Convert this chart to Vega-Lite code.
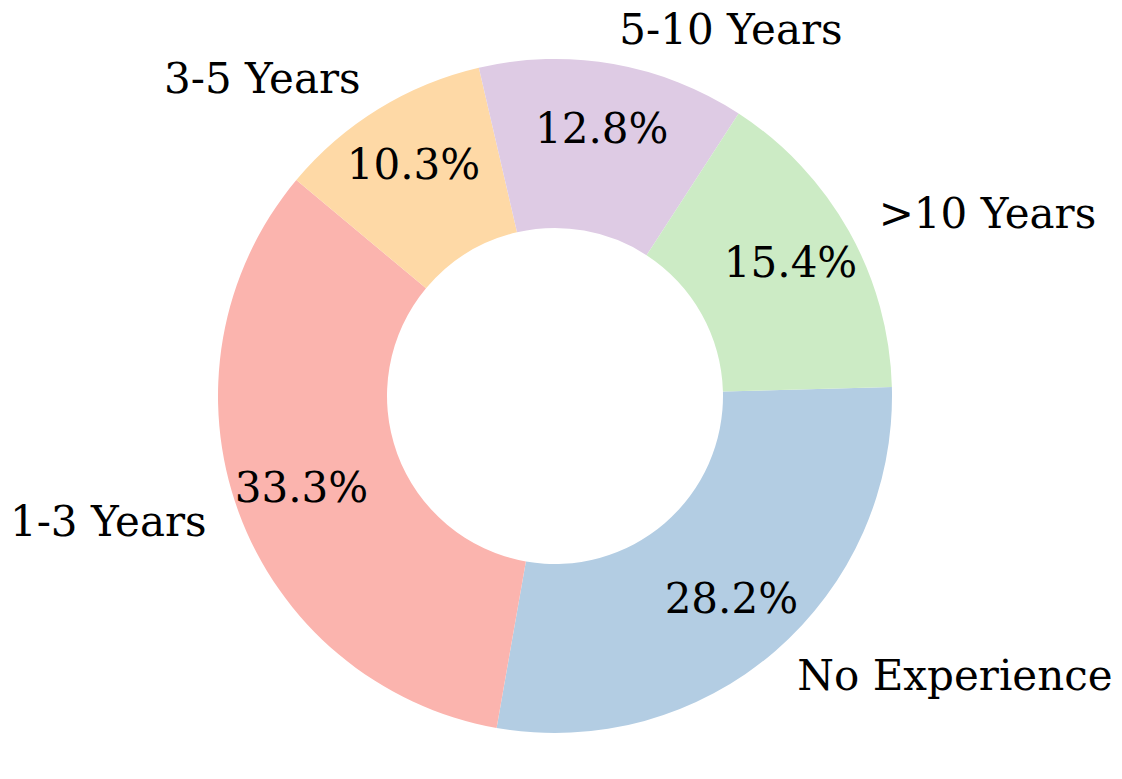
{
  "$schema": "https://vega.github.io/schema/vega-lite/v6.json",
  "width": 1122,
  "height": 779,
  "autosize": {"type": "fit", "contains": "padding"},
  "padding": {"left": 0, "right": 12, "top": 13, "bottom": 0},
  "background": "white",
  "config": {"view": {"stroke": null}},
  "data": {
    "values": [
      {"label": "No Experience", "share": 0.282},
      {"label": "1-3 Years", "share": 0.333},
      {"label": "3-5 Years", "share": 0.103},
      {"label": "5-10 Years", "share": 0.128},
      {"label": ">10 Years", "share": 0.154}
    ]
  },
  "transform": [{"window": [{"op": "row_number", "as": "rank"}]}],
  "encoding": {
    "theta": {"field": "share", "type": "quantitative", "stack": true, "scale": {"range": [1.5439, 7.8271]}},
    "order": {"field": "rank", "type": "quantitative"}
  },
  "layer": [
    {
      "mark": {"type": "arc", "outerRadius": 337, "innerRadius": 168},
      "encoding": {
        "color": {
          "field": "label",
          "type": "nominal",
          "scale": {
            "domain": ["1-3 Years", "No Experience", ">10 Years", "5-10 Years", "3-5 Years"],
            "range": ["#fbb4ae", "#b3cde3", "#ccebc5", "#decbe4", "#fed9a6"]
          },
          "legend": null
        }
      }
    },
    {
      "mark": {"type": "text", "radius": 270, "font": "DejaVu Serif", "fontSize": 42, "color": "black", "align": "center", "baseline": "middle"},
      "encoding": {"text": {"field": "share", "type": "quantitative", "format": ".1%"}}
    },
    {
      "mark": {"type": "text", "radius": 371, "font": "DejaVu Serif", "fontSize": 42, "color": "black", "align": "right", "baseline": "middle"},
      "encoding": {"text": {"condition": {"test": "datum.label === '1-3 Years' || datum.label === '3-5 Years'", "field": "label"}, "value": ""}}
    },
    {
      "mark": {"type": "text", "radius": 371, "font": "DejaVu Serif", "fontSize": 42, "color": "black", "align": "left", "baseline": "middle"},
      "encoding": {"text": {"condition": {"test": "datum.label !== '1-3 Years' && datum.label !== '3-5 Years'", "field": "label"}, "value": ""}}
    }
  ]
}
